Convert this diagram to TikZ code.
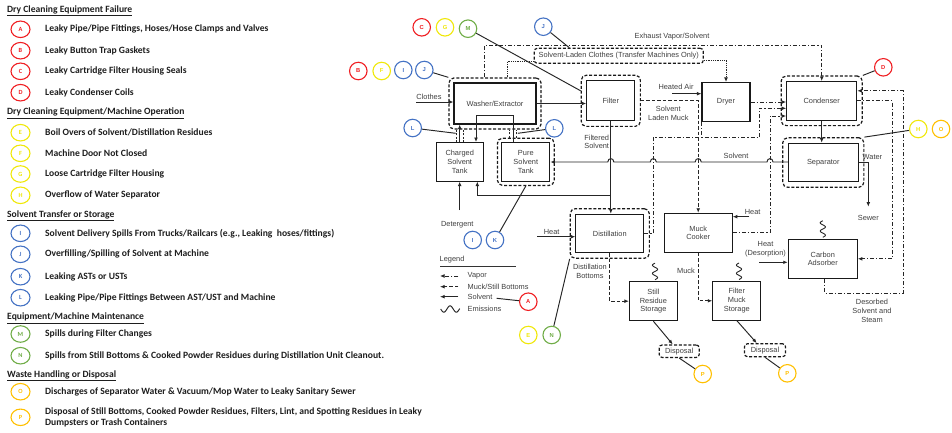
\documentclass[tikz,border=0pt]{standalone}
\usepackage{fontspec}
\setmainfont{Liberation Sans}
\newfontfamily\calib{Carlito}
\usetikzlibrary{arrows.meta,shapes.geometric,calc,fit}
\definecolor{cred}{RGB}{240,30,34}
\definecolor{cyel}{RGB}{240,232,10}
\definecolor{cblu}{RGB}{68,114,196}
\definecolor{cgrn}{RGB}{112,173,71}
\definecolor{corg}{RGB}{255,192,0}
\definecolor{txt}{RGB}{64,64,64}
\definecolor{ltx}{RGB}{30,30,30}
\tikzset{
  arr/.style={-{Latex[length=4.5pt,width=3.8pt]}},
  sol/.style={line width=0.95pt, draw=black!85},
  vap/.style={line width=0.95pt, draw=black!85, dash pattern=on 4pt off 2pt on 1.2pt off 2pt},
  mk/.style={line width=0.95pt, draw=black!85, dash pattern=on 3.5pt off 2pt},
  dotl/.style={line width=0.9pt, draw=black!85, dash pattern=on 0.9pt off 0.9pt},
  pipe/.style={line width=0.8pt, draw=black!85, dash pattern=on 2pt off 1.3pt},
  box/.style={draw=black!90, line width=1.1pt, inner sep=0, align=center, text=txt},
  outerb/.style={draw=black!90, line width=1.2pt, dash pattern=on 3pt off 1.8pt, rounded corners=5pt, inner sep=#1},
  dbox/.style={draw=black!90, line width=1.2pt, dash pattern=on 3pt off 1.8pt, rounded corners=3pt, inner sep=0, text=txt},
  lbl/.style={text=txt, inner sep=0, align=center},
  cir/.style={circle, draw=#1, line width=1.1pt, minimum size=17.5pt, inner sep=0, text=#1, fill=white,
    font=\fontsize{5.8}{6}\selectfont\bfseries},
  lcir/.style={ellipse, draw=#1, line width=1.1pt, minimum width=19pt, minimum height=16.5pt, inner sep=0, text=#1,
    font=\calib\fontsize{6.3}{6.3}\selectfont\bfseries},
  ltxt/.style={anchor=west, inner sep=0, text=ltx, align=left, font=\calib\bfseries\fontsize{9.6}{10.7}\selectfont},
  emis/.pic={\draw[line width=0.9pt, draw=black!85] plot[smooth, domain=0:16.5, samples=34] ({2.6*sin(\x*360/8.25)},{-\x});}
}
\begin{document}
\begin{tikzpicture}[x=1pt,y=-1pt, font=\fontsize{7.4}{8.8}\selectfont]
\useasboundingbox (0,0) rectangle (952,432);
\fill[white] (0,0) rectangle (952,432);

% ---------------- left legend ----------------
\node[ltxt] (h1) at (7,10.7) {\underline{Dry Cleaning Equipment Failure}};
\node[lcir=cred] (lA) at (20.5,29.3) {A}; \node[ltxt] (tA) at (45,29.3) {Leaky Pipe/Pipe Fittings, Hoses/Hose Clamps and Valves};
\node[lcir=cred] (lB) at (20.5,50.7) {B}; \node[ltxt] (tB) at (45,50.7) {Leaky Button Trap Gaskets};
\node[lcir=cred] (lC) at (20.5,71.3) {C}; \node[ltxt] (tC) at (45,71.3) {Leaky Cartridge Filter Housing Seals};
\node[lcir=cred] (lD) at (20.5,92.7) {D}; \node[ltxt] (tD) at (45,92.7) {Leaky Condenser Coils};
\node[ltxt] (h2) at (7,113.3) {\underline{Dry Cleaning Equipment/Machine Operation}};
\node[lcir=cyel] (lE) at (20.5,132.7) {E}; \node[ltxt] (tE) at (45,132.7) {Boil Overs of Solvent/Distillation Residues};
\node[lcir=cyel] (lF) at (20.5,153.3) {F}; \node[ltxt] (tF) at (45,153.3) {Machine Door Not Closed};
\node[lcir=cyel] (lG) at (20.5,174) {G}; \node[ltxt] (tG) at (45,174) {Loose Cartridge Filter Housing};
\node[lcir=cyel] (lH) at (20.5,195.3) {H}; \node[ltxt] (tH) at (45,195.3) {Overflow of Water Separator};
\node[ltxt] (h3) at (7,216) {\underline{Solvent Transfer or Storage}};
\node[lcir=cblu] (lI) at (20.5,233.3) {I}; \node[ltxt] (tI) at (45,233.3) {Solvent Delivery Spills From Trucks/Railcars (e.g., Leaking\ \ hoses/fittings)};
\node[lcir=cblu] (lJ) at (20.5,254.3) {J}; \node[ltxt] (tJ) at (45,254.3) {Overfilling/Spilling of Solvent at Machine};
\node[lcir=cblu] (lK) at (20.5,276.7) {K}; \node[ltxt] (tK) at (45,276.7) {Leaking ASTs or USTs};
\node[lcir=cblu] (lL) at (20.5,297.7) {L}; \node[ltxt] (tL) at (45,297.7) {Leaking Pipe/Pipe Fittings Between AST/UST and Machine};
\node[ltxt] (h4) at (7,318.3) {\underline{Equipment/Machine Maintenance}};
\node[lcir=cgrn] (lM) at (20.5,334) {M}; \node[ltxt] (tM) at (45,334) {Spills during Filter Changes};
\node[lcir=cgrn] (lN) at (20.5,355.7) {N}; \node[ltxt] (tN) at (45,355.7) {Spills from Still Bottoms \& Cooked Powder Residues during Distillation Unit Cleanout.};
\node[ltxt] (h5) at (7,376) {\underline{Waste Handling or Disposal}};
\node[lcir=corg] (lO) at (20.5,391.7) {O}; \node[ltxt] (tO) at (45,391.7) {Discharges of Separator Water \& Vacuum/Mop Water to Leaky Sanitary Sewer};
\node[lcir=corg] (lP) at (20.5,417.3) {P}; \node[ltxt] (tP) at (45,417.3) {Disposal of Still Bottoms, Cooked Powder Residues, Filters, Lint, and Spotting Residues in Leaky\\Dumpsters or Trash Containers};

% ---------------- boxes ----------------
\node[box, minimum width=82pt, minimum height=41pt] (wash) at (495,103.5) {Washer/Extractor};
\node[outerb=4.5pt, fit=(wash)] (washo) {};
\node[box, minimum width=48pt, minimum height=40pt] (filt) at (610.8,100.8) {Filter};
\node[outerb=5pt, fit=(filt)] (filto) {};
\node[box, minimum width=48pt, minimum height=39pt] (dryer) at (726,102) {Dryer};
\node[box, minimum width=70pt, minimum height=38.5pt] (cond) at (821.7,100.8) {Condenser};
\node[outerb=5pt, fit=(cond)] (condo) {};
\node[box, minimum width=70pt, minimum height=38.5pt] (sep) at (823.3,162.5) {Separator};
\node[outerb=5pt, fit=(sep)] (sepo) {};
\node[box, minimum width=47pt, minimum height=38.5pt] (charged) at (459.7,161.8) {Charged\\Solvent\\Tank};
\node[box, minimum width=48pt, minimum height=38.5pt] (pure) at (525.8,161.8) {Pure\\Solvent\\Tank};
\node[outerb=3.8pt, fit=(pure)] (pureo) {};
\node[box, minimum width=68pt, minimum height=38.5pt] (distil) at (609.8,233.5) {Distillation};
\node[outerb=5pt, fit=(distil)] (distilo) {};
\node[box, minimum width=68pt, minimum height=39pt] (muck) at (698.2,232.8) {Muck\\Cooker};
\node[box, minimum width=69pt, minimum height=39pt] (carbon) at (822.8,258.8) {Carbon\\Adsorber};
\node[box, minimum width=48pt, minimum height=39pt] (still) at (653.4,301.2) {Still\\Residue\\Storage};
\node[box, minimum width=48pt, minimum height=38.5pt] (fmuck) at (736.8,300.8) {Filter\\Muck\\Storage};
\node[dbox, minimum width=40pt, minimum height=12.5pt] (disp1) at (679.2,351.2) {Disposal};
\node[dbox, minimum width=41pt, minimum height=13pt] (disp2) at (765,350.2) {Disposal};
\node[dbox, minimum width=169pt, minimum height=15pt] (slc) at (618.8,55.8) {Solvent-Laden Clothes (Transfer Machines Only)};

% helper coordinates
\coordinate (topv) at (0,45.3);
\coordinate (y61) at (0,61.7);
\coordinate (y60) at (0,60);
\coordinate (y115) at (0,115);
\coordinate (c108) at (0,108.3);
\coordinate (c116) at (0,116);
\coordinate (sy) at (0,162);

% ---------------- connectors ----------------
\coordinate (clin) at (416,102);
\draw[sol,arr] (clin) -- (clin -| wash.west);
\node[lbl] (lclothes) at (429,96.5) {Clothes};
\draw[sol,arr] (wash.east) -- (wash.east -| filt.west);

% pipes washer / tanks
\draw[sol,arr] (charged.north) -- (charged.north |- wash.south);
\draw[pipe] ($(charged.north)+(-3.5,0)$) -- ($(charged.north |- washo.south)+(-3.5,0)$);
\draw[pipe] ($(charged.north)+(3.5,0)$) -- ($(charged.north |- washo.south)+(3.5,0)$);
\coordinate (pp) at ($(pure.north)+(-12.5,0)$);
\draw[pipe] ($(pp |- pureo.north)+(-3.5,0)$) -- ($(pp |- washo.south)+(-3.5,0)$);
\draw[pipe] ($(pp |- pureo.north)+(3.5,0)$) -- ($(pp |- washo.south)+(3.5,0)$);
\draw[sol,arr] (pp) -- (pp |- y115) -| ($(charged.north)+(16.3,0)$);

% filter to distillation + branch to charged tank
\draw[sol,arr] (filt.south) -- (filt.south |- distil.north);
\path (filt.south) ++(0,74.2) coordinate (br);
\draw[sol,arr] (br) -| ($(charged.south)+(17.6,0)$);
\node[lbl] (lfs) at (596.7,141.8) {Filtered\\Solvent};

% detergent
\coordinate (det) at (459.7,210);
\draw[sol,arr] (det) -- (charged.south);
\node[lbl] (ldet) at (457.3,225) {Detergent};

% solvent return line with hops
\draw[sol,arr] (sep.west |- sy) -- (773,162) .. controls (773,157.5) and (767,157.5) .. (767,162)
  -- (701.2,162) .. controls (701.2,157.5) and (695.2,157.5) .. (695.2,162)
  -- (656.3,162) .. controls (656.3,157.5) and (650.3,157.5) .. (650.3,162)
  -- (613.8,162) .. controls (613.8,157.5) and (607.8,157.5) .. (607.8,162)
  -- (pure.east |- sy);
\node[lbl] (lsol) at (736,156) {Solvent};

% muck from filter
\draw[mk,arr] (filto.east) -| (muck.north);
\node[lbl] (lslm) at (668.3,113) {Solvent\\Laden Muck};

% vapor lines
\draw[vap,arr] (distil.east) -| (653.3,137.3) -| (759.3,108.3) -- (cond.west |- c108);
\draw[vap] (dryer.south west) -- ++(0,15.6);
\draw[vap,arr] (dryer.east) -- (dryer.east -| cond.west);
\draw[vap,arr] (muck.east) -| (770,116) -- (cond.west |- c116);
\coordinate (wv) at ($(washo.north)+(-10.4,0)$);
\draw[vap,arr] (wv) |- (cond.north |- topv) -- (cond.north);
\node[lbl] (lexh) at (672,37) {Exhaust Vapor/Solvent};

% dotted solvent-laden clothes
\coordinate (wd) at ($(washo.north)+(12,0)$);
\draw[dotl] (wd) |- (slc.west |- y61);
\draw[dotl,arr] (slc.east |- y60) -| (dryer.north);

% heated air
\coordinate (ha) at (672.3,93.7);
\draw[sol,arr] (ha) -- (ha -| dryer.west);
\node[lbl] (lha) at (676,86.5) {Heated Air};

% condenser - separator - sewer
\draw[sol,arr] (cond.south) -- (cond.south |- sep.north);
\coordinate (sewer) at (868.3,206.7);
\draw[sol,arr] (sep.east) -| (sewer);
\node[lbl, anchor=west] (lwater) at (862.5,157.3) {Water};
\node[lbl] (lsewer) at (868.3,217.7) {Sewer};

% carbon adsorber loops
\draw[vap,arr] ($(carbon.south)+(2,0)$) |- (903.3,293.3) |- ($(cond.east)+(0,-10)$);
\draw[vap,arr] (cond.east) -| (892.3,258.8) -- (carbon.east);
\node[lbl] (ldes) at (872,311) {Desorbed\\Solvent and\\Steam};
\coordinate (hd) at (759.3,262.3);
\draw[sol,arr] (hd) -- (hd -| carbon.west);
\node[lbl] (lhd) at (765.5,249.5) {Heat\\(Desorption)};

% heat to muck cooker and distillation
\coordinate (hm) at (749.3,216.7);
\draw[sol,arr] (hm) -- (hm -| muck.east);
\node[lbl] (lhm) at (752.7,211.5) {Heat};
\coordinate (hdi) at (537.3,236.7);
\draw[sol,arr] (hdi) -- (hdi -| distil.west);
\node[lbl] (lhdi) at (551.7,231.5) {Heat};

% bottoms and muck to storage
\draw[mk,arr] (distil.south) |- (still.west);
\node[lbl] (ldb) at (590,271.6) {Distillation\\Bottoms};
\draw[mk,arr] (muck.south) |- (fmuck.west);
\node[lbl] (lmuck) at (686,270.7) {Muck};
\draw[sol,arr] (still.south) -- ($(disp1.north)+(-6.5,0)$);
\draw[sol,arr] (fmuck.south) -- ($(disp2.north)+(-8.3,0)$);

% emissions
\pic at ($(still.north)+(1.6,-1.5)$) {emis};
\pic at ($(fmuck.north)+(2.2,-1.5)$) {emis};
\pic at ($(carbon.north)+(0,-1.5)$) {emis};

% ---------------- diagram legend ----------------
\node[lbl, anchor=west] (lleg) at (439.5,259.5) {Legend};
\coordinate (lg1) at (440,266.7); \coordinate (lg2) at (515.7,266.7);
\draw[line width=0.9pt, draw=black!80] (lg1) -- (lg2);
\coordinate (v1) at (458.3,276); \coordinate (v2) at (440,276);
\draw[vap,arr] (v1) -- (v2); \node[lbl, anchor=west] (lv) at (467.5,276) {Vapor};
\coordinate (m1) at (458.3,286.7); \coordinate (m2) at (440,286.7);
\draw[mk,arr] (m1) -- (m2); \node[lbl, anchor=west] (lm) at (467.5,286.7) {Muck/Still Bottoms};
\coordinate (s1) at (458.3,296.7); \coordinate (s2) at (440,296.7);
\draw[sol,arr] (s1) -- (s2); \node[lbl, anchor=west] (ls) at (467.5,296.7) {Solvent};
\draw[sol] plot[smooth, domain=0:19, samples=30] ({440.7+\x},{309+3.2*sin(\x*360/12.5)});
\node[lbl, anchor=west] (le) at (467.5,309) {Emissions};
\coordinate (solend) at (496.7,298.3);

% ---------------- release circles ----------------
\node[cir=cred] (cC) at (421.7,27.3) {C};
\node[cir=cyel] (cG) at (445,27.3) {G};
\node[cir=cgrn] (cM) at (468,28.7) {M};
\node[cir=cblu] (cJ2) at (543.3,26.7) {J};
\node[cir=cred] (cB) at (358.3,71) {B};
\node[cir=cyel] (cF) at (381.7,71) {F};
\node[cir=cblu] (cI1) at (403.3,70) {I};
\node[cir=cblu] (cJ1) at (424.3,70) {J};
\node[cir=cblu] (cL1) at (412.7,128) {L};
\node[cir=cblu] (cL2) at (554.3,128.3) {L};
\node[cir=cred] (cD) at (883.3,67.3) {D};
\node[cir=cyel] (cH) at (918.3,129) {H};
\node[cir=corg] (cO) at (941,129) {O};
\node[cir=cblu] (cI2) at (472.7,240) {I};
\node[cir=cblu] (cK) at (495,240) {K};
\node[cir=cred] (cA) at (528.3,301.7) {A};
\node[cir=cyel] (cE) at (528.3,335) {E};
\node[cir=cgrn] (cN) at (551.7,335) {N};
\node[cir=corg] (cP1) at (702.7,374) {P};
\node[cir=corg] (cP2) at (787.3,373.3) {P};

\draw[sol] (cM) -- ($(filto.west)+(0,-10)$);
\draw[sol] (cJ2) -- ($(slc.north)+(-49.5,0)$);
\draw[sol] (cJ1) -- (washo.north west);
\draw[sol] (cL1) -- ($(charged.north)+(-4,-8.7)$);
\draw[sol] (cL2) -- ($(pp)+(4.5,-8.7)$);
\draw[sol] (cD) -- (condo.north east);
\draw[sol] (cH) -- (sepo.north east);
\draw[sol] (cK) -- (pureo.south);
\draw[sol] (cN) -- (distilo.south west);
\draw[sol] (cP1) -- (disp1.south);
\draw[sol] (cP2) -- (disp2.south);
\draw[sol] (solend) -- (cA);
\end{tikzpicture}
\end{document}
